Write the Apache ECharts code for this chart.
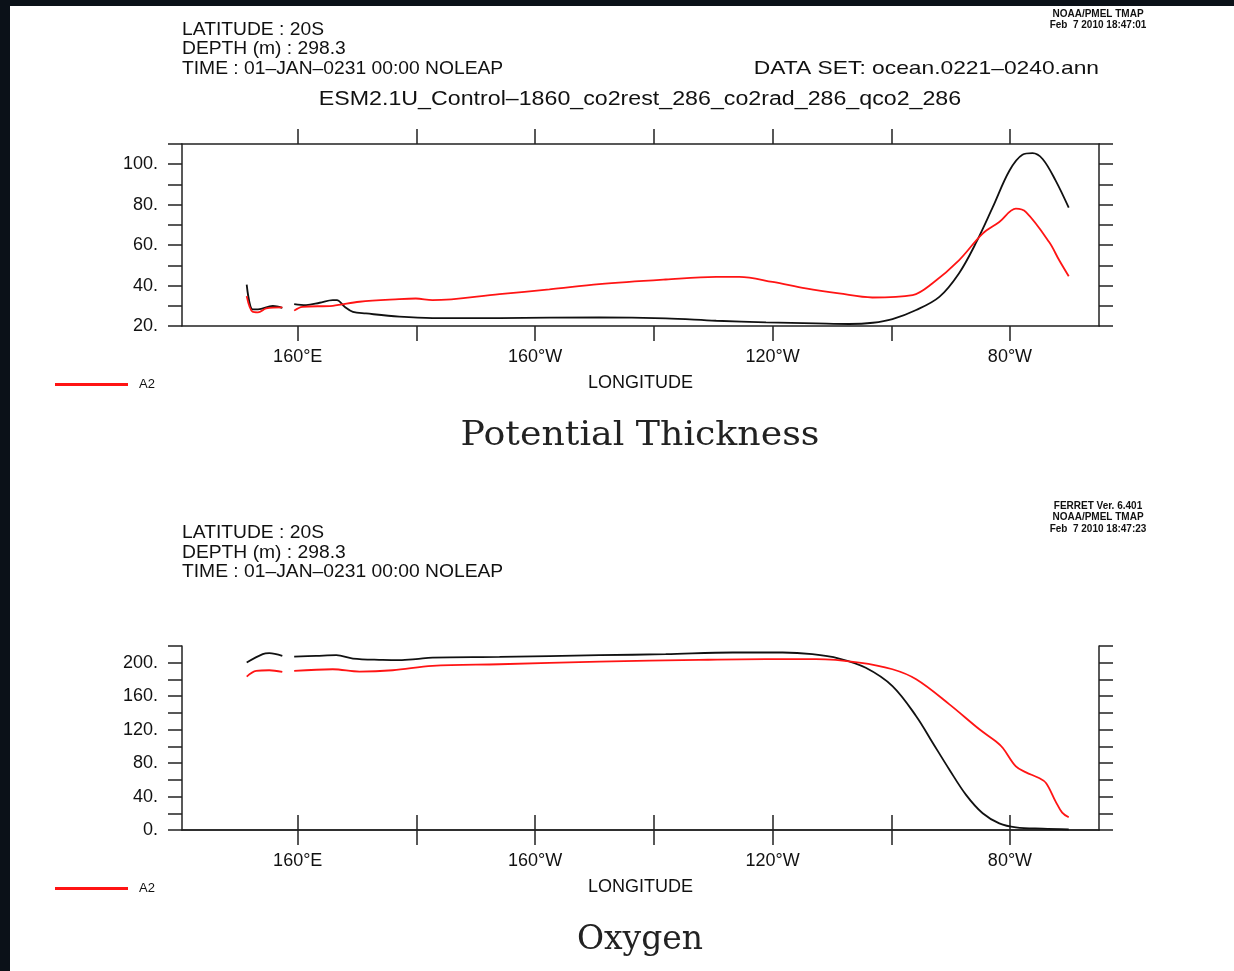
<!DOCTYPE html>
<html>
<head>
<meta charset="utf-8">
<script src="https://cdn.jsdelivr.net/npm/echarts@6/dist/echarts.min.js"></script>
<style>
html,body{margin:0;padding:0;background:#0b1118;}
#c{width:1234px;height:971px;}
</style>
</head>
<body>
<div id="c"></div>
<script>
// ---- Potential Thickness (top plot) ----
const thkLonCtrl = [151.4,152.4,153.3,155.8,157.4,158.4,159.4,161.4,163.7,165.9,166.6,167.9,169.3,171.5,177.1,182.7,194.0,210.8,222.0,230.5,238.9,247.3,252.9,256.9,260.2,264.2,268.1,271.4,274.2,277.1,279.9,282.1,283.8,285.5,287.7,289.9];
const thkCtrl    = [40.5,28.2,28.2,29.9,29.0,null,30.8,30.3,31.5,32.8,32.8,29.5,27.0,26.2,24.6,23.9,23.9,24.3,23.8,22.6,21.8,21.3,21.0,21.6,23.4,27.9,34.4,46.0,60.7,78.8,96.8,104.7,105.5,102.6,91.9,78.5];
const thkLonA2   = [151.4,152.4,153.3,154.7,157.4,158.4,159.4,160.8,165.9,170.4,177.1,179.9,182.7,194.0,202.4,210.8,222.0,230.5,234.4,240.0,245.6,251.2,256.8,263.6,266.9,271.4,275.4,278.2,281.0,282.7,286.6,288.3,289.9];
const thkA2      = [34.8,27.0,26.7,28.7,29.2,null,27.6,29.5,30.0,32.0,33.3,33.6,32.8,35.8,38.1,40.7,43.0,44.3,44.3,41.8,38.6,36.1,34.1,35.3,41.0,52.5,65.7,71.4,78.0,76.3,61.5,52.5,44.6];

// ---- Oxygen (bottom plot) ----
const oxyLonCtrl = [151.4,154.1,155.2,157.4,158.4,159.4,163.1,166.5,169.3,174.3,177.1,179.9,182.7,194.0,210.8,222.0,233.3,241.7,246.7,251.2,255.7,260.2,264.2,267.0,269.8,272.6,275.4,278.2,281.0,285.5,289.9];
const oxyCtrl    = [200.2,210.2,211.4,208.2,null,207.4,208.2,209.0,205.0,203.4,203.0,204.2,206.2,207.0,209.0,210.2,212.2,212.2,210.2,205.0,194.0,172.1,136.1,104.1,72.1,42.0,20.0,8.0,3.2,1.6,0.8];
const oxyLonA2   = [151.4,153.0,155.2,157.4,158.4,159.4,165.9,170.4,176.0,182.7,194.0,210.8,227.6,238.9,247.3,254.6,260.2,264.2,269.8,274.9,277.6,278.8,281.0,282.7,284.9,286.1,287.7,288.8,289.9];
const oxyA2      = [183.4,190.2,191.0,189.0,null,190.2,192.2,189.4,191.0,196.2,198.2,201.4,203.4,204.2,204.2,200.2,192.2,180.2,150.2,120.1,106.1,98.1,76.0,68.9,62.1,56.0,34.0,20.8,15.2];

// ---- axes / ticks ----
const lonMin = 140.5, lonMax = 295;
const lonTicks = [160,180,200,220,240,260,280];
const lonLabels = [160,200,240,280];
const thkMin = 20, thkMax = 110, thkStep = 10, thkLabels = [20,40,60,80,100];
const oxyMin = 0, oxyMax = 220, oxyStep = 20, oxyLabels = [0,40,80,120,160,200];

// ---- texts ----
const headerLines = ['LATITUDE : 20S','DEPTH (m) : 298.3','TIME : 01\u2013JAN\u20130231 00:00 NOLEAP'];
const dataSetText = 'DATA SET: ocean.0221\u20130240.ann';
const runTitle = 'ESM2.1U_Control\u20131860_co2rest_286_co2rad_286_qco2_286';
const stampTop = ['FERRET Ver. 6.401','NOAA/PMEL TMAP','Feb  7 2010 18:47:01'];
const stampBot = ['FERRET Ver. 6.401','NOAA/PMEL TMAP','Feb  7 2010 18:47:23'];
const plotTitles = ['Potential Thickness','Oxygen'];
const axisName = 'LONGITUDE';
const seriesNames = ['Control','A2'];

function pairs(xs, ys){ return xs.map((x,i)=>[x, ys[i]]); }
function lonFmt(v){ if (v < 180) return v + '°E'; if (v > 180) return (360 - v) + '°W'; return '180'; }

const FONT = 'Liberation Sans';
const axisLineStyle = {color:'#222', width:1.5};

function xAxes(gi){
  return [
    { type:'value', gridIndex:gi, position:'bottom', min:lonMin, max:lonMax,
      name: axisName, nameLocation:'middle', nameGap:48,
      nameTextStyle:{fontFamily:FONT, fontSize:18, color:'#111'},
      axisLine:{show:true, lineStyle:axisLineStyle},
      axisTick:{show:true, length:15, customValues:lonTicks, lineStyle:axisLineStyle},
      axisLabel:{show:true, customValues:lonLabels, formatter:lonFmt, margin:22, fontFamily:FONT, fontSize:18, color:'#111'},
      splitLine:{show:false} },
    { type:'value', gridIndex:gi, position:'top', min:lonMin, max:lonMax,
      axisLine:{show:true, lineStyle:axisLineStyle},
      axisTick:{show:true, length:15, customValues:lonTicks, lineStyle:axisLineStyle},
      axisLabel:{show:false}, splitLine:{show:false} }
  ];
}
function yAxes(gi, mn, mx, step, labels){
  return [
    { type:'value', gridIndex:gi, position:'left', min:mn, max:mx, interval:step,
      axisLine:{show:true, lineStyle:axisLineStyle},
      axisTick:{show:true, length:14, lineStyle:axisLineStyle},
      axisLabel:{show:true, margin:24, fontFamily:FONT, fontSize:18, color:'#111',
        formatter: v => labels.indexOf(v) >= 0 ? (v + '.') : ''},
      splitLine:{show:false} },
    { type:'value', gridIndex:gi, position:'right', min:mn, max:mx, interval:step,
      axisLine:{show:true, lineStyle:axisLineStyle},
      axisTick:{show:true, length:14, lineStyle:axisLineStyle},
      axisLabel:{show:false}, splitLine:{show:false} }
  ];
}

function lineSeries(name, xi, yi, data, color){
  return { type:'line', name, xAxisIndex:xi, yAxisIndex:yi, data, showSymbol:false, symbol:'none',
    smooth:0.35, connectNulls:false, lineStyle:{color, width:1.8}, itemStyle:{color}, z:3, animation:false };
}

const textEls = [];
function txt(s, x, y, font, opts){
  opts = opts || {};
  textEls.push({ type:'text', x, y, scaleX: opts.scaleX || 1, z: opts.z || 10,
    style:{ text:s, font, fill: opts.fill || '#111', textAlign: opts.align || 'left', textVerticalAlign:'middle' } });
}
// headers
[[30,49,69],[533,553,572]].forEach(ys => headerLines.forEach((s,i)=> txt(s, 182, ys[i], '18px "Liberation Sans"', {scaleX:1.07})));
txt(dataSetText, 1099, 69, '19px "Liberation Sans"', {align:'right', scaleX:1.2});
txt(runTitle, 640, 99, '20px "Liberation Sans"', {align:'center', scaleX:1.16});
// stamps
stampTop.forEach((s,i)=> txt(s, 1098, 2.5 + i*11.5, 'bold 10px "Liberation Sans"', {align:'center'}));
stampBot.forEach((s,i)=> txt(s, 1098, 506 + i*11.5, 'bold 10px "Liberation Sans"', {align:'center'}));
// plot titles
txt(plotTitles[0], 640, 436, '33px "DejaVu Serif"', {align:'center', scaleX:1.1, fill:'#222'});
txt(plotTitles[1], 640, 940, '33px "DejaVu Serif"', {align:'center', scaleX:1.0, fill:'#222'});

const chart = echarts.init(document.getElementById('c'), null, {renderer:'canvas'});
chart.setOption({
  backgroundColor:'#0b1118',
  animation:false,
  grid:[
    {left:182, right:135, top:144, height:182},
    {left:182, right:135, top:646, height:184}
  ],
  xAxis:[...xAxes(0), ...xAxes(1)],
  yAxis:[...yAxes(0, thkMin, thkMax, thkStep, thkLabels), ...yAxes(1, oxyMin, oxyMax, oxyStep, oxyLabels)],
  legend:[
    {data:[seriesNames[1]], left:55, top:378, padding:0, icon:'rect', itemWidth:73, itemHeight:3,
     textStyle:{fontFamily:FONT, fontSize:13, color:'#111', padding:[0,0,0,6]}},
    {data:[seriesNames[1]], left:55, top:882, padding:0, icon:'rect', itemWidth:73, itemHeight:3,
     textStyle:{fontFamily:FONT, fontSize:13, color:'#111', padding:[0,0,0,6]}}
  ],
  graphic:{ elements:[
    {type:'rect', shape:{x:10, y:6, width:1224, height:965}, style:{fill:'#ffffff'}, z:-100},
    ...textEls,
    {type:'rect', shape:{x:0, y:0, width:1234, height:5}, style:{fill:'#0b1118'}, z:100}
  ]},
  series:[
    lineSeries(seriesNames[0], 0, 0, pairs(thkLonCtrl, thkCtrl), '#111111'),
    lineSeries(seriesNames[1], 0, 0, pairs(thkLonA2, thkA2), '#ff1414'),
    lineSeries(seriesNames[0], 2, 2, pairs(oxyLonCtrl, oxyCtrl), '#111111'),
    lineSeries(seriesNames[1], 2, 2, pairs(oxyLonA2, oxyA2), '#ff1414')
  ]
});
</script>
</body>
</html>
